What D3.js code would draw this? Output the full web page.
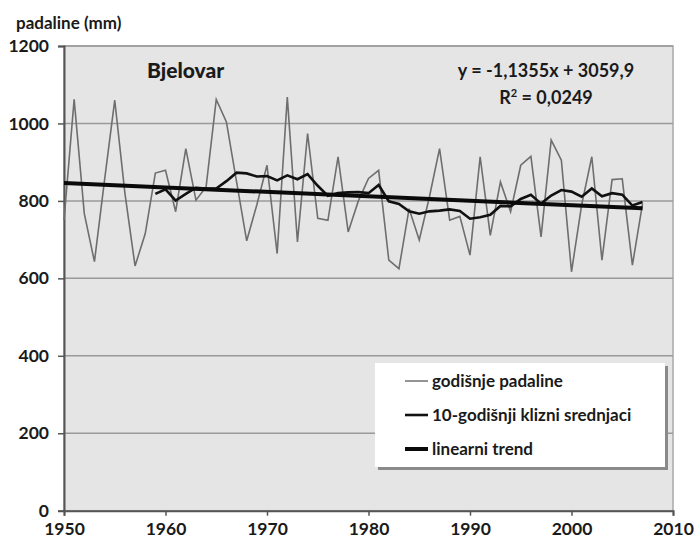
<!DOCTYPE html>
<html>
<head>
<meta charset="utf-8">
<script src="https://cdn.jsdelivr.net/npm/d3@7"></script>
<style>
  body { margin: 0; background: #fff; }
  text { font-family: Lato, "Open Sans", sans-serif; fill: #1a1a1a; }
</style>
</head>
<body>
<div id="chart"></div>
<script>
// godišnje padaline, Bjelovar 1950-2007
var years = d3.range(1950, 2008);
var annual = [750, 1062, 767, 643, 855, 1060, 820, 632, 715, 872,
              879, 772, 935, 802, 836, 1062, 1004, 850, 697, 790,
              892, 664, 1068, 694, 974, 755, 750, 914, 720, 800,
              858, 879, 647, 625, 780, 699, 810, 935, 750, 760,
              660, 914, 711, 849, 772, 892, 915, 707, 957, 905,
              617, 790, 914, 647, 855, 857, 634, 793];

// 10-godisnji klizni srednjaci (1959-2007)
var maYears = d3.range(1959, 2008);
var movingAvg = [818, 830, 801, 818, 834, 832, 832, 851, 873, 871,
                 863, 864, 853, 866, 856, 869, 839, 813, 820, 822,
                 823, 820, 841, 799, 792, 773, 767, 773, 775, 778,
                 774, 754, 758, 764, 787, 786, 805, 816, 793, 814,
                 828, 824, 811, 832, 812, 820, 816, 788, 797];

// linearni trend end points
var trendYears = [1950, 2007];
var trendValues = [846, 781];

var yTicks = [0, 200, 400, 600, 800, 1000, 1200];
var xTicks = [1950, 1960, 1970, 1980, 1990, 2000, 2010];
var legendLabels = ["godišnje padaline", "10-godišnji klizni srednjaci", "linearni trend"];

var width = 697, height = 543;
var plotL = 64, plotR = 673, plotT = 46, plotB = 510.7;

var svg = d3.select("#chart").append("svg")
  .attr("width", width)
  .attr("height", height);

var x = d3.scaleLinear().domain([1950, 2010]).range([plotL, plotR]);
var y = d3.scaleLinear().domain([0, 1200]).range([plotB, plotT]);

// plot area
svg.append("rect")
  .attr("x", plotL).attr("y", plotT)
  .attr("width", plotR - plotL).attr("height", plotB - plotT)
  .attr("fill", "#e5e5e5")
  .attr("stroke", "#a8a8a8")
  .attr("stroke-width", 1.5);

svg.selectAll("line.grid")
  .data(yTicks.slice(1))
  .enter().append("line")
  .attr("class", "grid")
  .attr("x1", plotL).attr("x2", plotR)
  .attr("y1", function(d) { return y(d); })
  .attr("y2", function(d) { return y(d); })
  .attr("stroke", "#9a9a9a")
  .attr("stroke-width", 1.5);

// axes
var yAxis = svg.append("g")
  .attr("transform", "translate(" + plotL + ",0)")
  .call(d3.axisLeft(y).tickValues(yTicks).tickFormat(d3.format("d")).tickSize(6).tickPadding(9));
var xAxis = svg.append("g")
  .attr("transform", "translate(0," + plotB + ")")
  .call(d3.axisBottom(x).tickValues(xTicks).tickFormat(d3.format("d")).tickSize(5).tickPadding(7));

[yAxis, xAxis].forEach(function(a) {
  a.select(".domain").attr("stroke", "#555").attr("stroke-width", 2);
  a.selectAll(".tick line").attr("stroke", "#555").attr("stroke-width", 1.5);
  a.selectAll(".tick text")
    .attr("font-family", "Lato, sans-serif")
    .attr("font-size", "17.5px")
    .attr("font-weight", "bold")
    .attr("fill", "#1a1a1a");
});

// series
var line = d3.line()
  .x(function(d) { return x(d[0]); })
  .y(function(d) { return y(d[1]); });

svg.append("path")
  .datum(d3.zip(years, annual))
  .attr("fill", "none")
  .attr("stroke", "#6e6e6e")
  .attr("stroke-width", 1.6)
  .attr("d", line);

svg.append("path")
  .datum(d3.zip(maYears, movingAvg))
  .attr("fill", "none")
  .attr("stroke", "#111")
  .attr("stroke-width", 2.6)
  .attr("d", line);

svg.append("path")
  .datum(d3.zip(trendYears, trendValues))
  .attr("fill", "none")
  .attr("stroke", "#0a0a0a")
  .attr("stroke-width", 4)
  .attr("d", line);

// texts
svg.append("text")
  .attr("x", 16).attr("y", 29)
  .attr("font-size", "17px")
  .attr("font-weight", "bold")
  .text("padaline (mm)");

svg.append("text")
  .attr("x", 147).attr("y", 78)
  .attr("font-size", "21px")
  .attr("font-weight", "900")
  .text("Bjelovar");

svg.append("text")
  .attr("x", 546).attr("y", 77)
  .attr("text-anchor", "middle")
  .attr("font-size", "18px")
  .attr("font-weight", "bold")
  .text("y = -1,1355x + 3059,9");

var r2 = svg.append("text")
  .attr("x", 546).attr("y", 104)
  .attr("text-anchor", "middle")
  .attr("font-size", "18px")
  .attr("font-weight", "bold");
r2.append("tspan").text("R");
r2.append("tspan").attr("dy", -7).attr("font-size", "11px").text("2");
r2.append("tspan").attr("dy", 7).text(" = 0,0249");

// legend
var legend = svg.append("g");
legend.append("rect")
  .attr("x", 378).attr("y", 366)
  .attr("width", 290).attr("height", 104)
  .attr("fill", "#8a8a8a");
legend.append("rect")
  .attr("x", 375).attr("y", 363)
  .attr("width", 290).attr("height", 104)
  .attr("fill", "#fff");

var legendStyles = [
  { stroke: "#7a7a7a", width: 1.6 },
  { stroke: "#111", width: 2.6 },
  { stroke: "#0a0a0a", width: 4 }
];

var item = legend.selectAll("g.item")
  .data(legendLabels)
  .enter().append("g")
  .attr("class", "item")
  .attr("transform", function(d, i) { return "translate(0," + (381 + i * 34) + ")"; });

item.append("line")
  .attr("x1", 405).attr("x2", 428)
  .attr("y1", 0).attr("y2", 0)
  .attr("stroke", function(d, i) { return legendStyles[i].stroke; })
  .attr("stroke-width", function(d, i) { return legendStyles[i].width; });

item.append("text")
  .attr("x", 432).attr("y", 6)
  .attr("font-size", "17px")
  .attr("font-weight", "bold")
  .text(function(d) { return d; });
</script>
</body>
</html>
